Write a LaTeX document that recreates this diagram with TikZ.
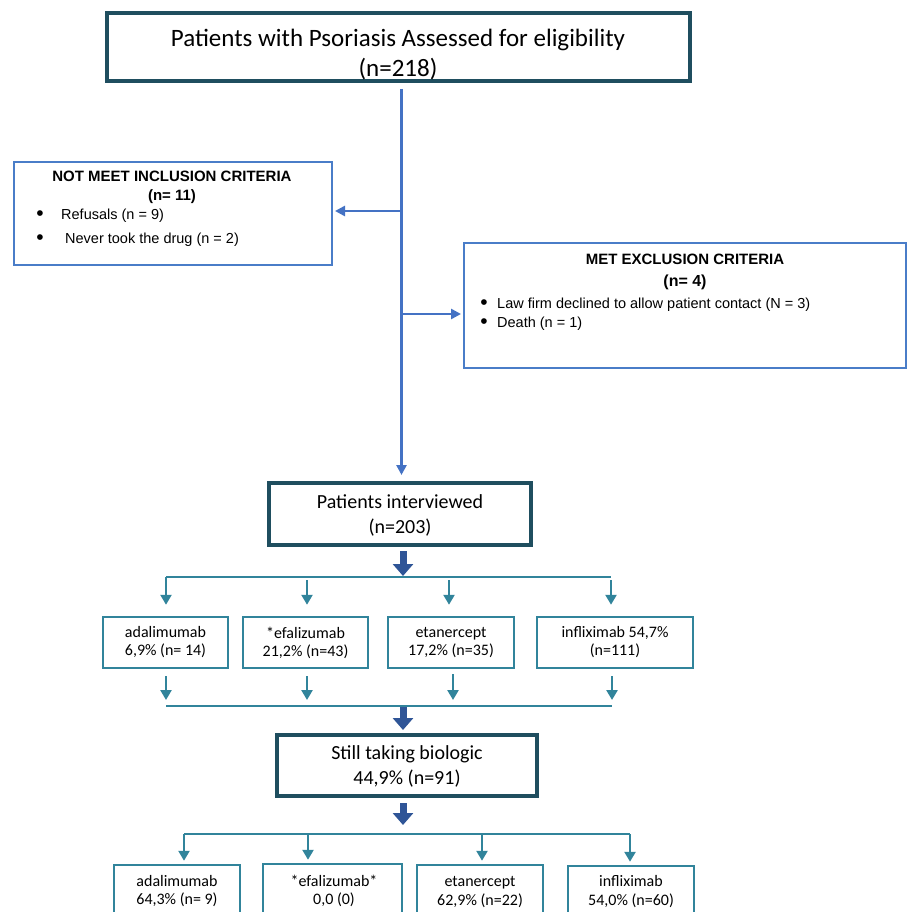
\documentclass[tikz,border=0pt]{standalone}
\usepackage{fontspec}
\setmainfont{Carlito}
\newfontfamily\arialf{Liberation Sans}
\usetikzlibrary{arrows.meta,calc}
\definecolor{dteal}{HTML}{1F4E5F}
\definecolor{tealc}{HTML}{31849B}
\definecolor{blc}{HTML}{4472C4}
\definecolor{blbox}{HTML}{4A7DC8}
\definecolor{dblue}{HTML}{2F5597}
\begin{document}
\begin{tikzpicture}[x=1pt,y=-1pt,
  bigbox/.style={draw=dteal,line width=4pt,rectangle,inner sep=0pt},
  critbox/.style={draw=blbox,line width=2pt,rectangle,inner sep=0pt},
  smallbox/.style={draw=tealc,line width=2.5pt,rectangle,inner sep=0pt,align=center,font=\fontsize{16}{18}\selectfont},
  txt/.style={inner sep=0pt,align=center},
  blline/.style={draw=blc,line width=2.5pt},
  blarrow/.style={draw=blc,line width=2.5pt,-{Triangle[length=10pt,width=10pt]}},
  tline/.style={draw=tealc,line width=2.5pt},
  tarrow/.style={draw=tealc,line width=2.5pt,-{Triangle[length=10pt,width=11pt]}},
  fat/.style={draw=dblue,line width=7pt,-{Triangle[length=12pt,width=20pt]}},
  crit/.style={inner sep=0pt,font=\arialf\fontsize{14.5}{17}\selectfont},
  bul/.style={inner sep=0pt,font=\arialf\fontsize{21}{21}\selectfont},
  critb/.style={inner sep=0pt,align=center,font=\arialf\bfseries\fontsize{15}{19}\selectfont}
]
\clip (0,0) rectangle (907,912);
\fill[white] (0,0) rectangle (907,912);

% top box
\node[bigbox,minimum width=583pt,minimum height=68pt] (top) at (398.5,47) {};
\node[txt,font=\fontsize{25}{30}\selectfont] (toptxt) at (398,55) {Patients with Psoriasis Assessed for eligibility\\(n=218)};

% criteria boxes
\node[critbox,minimum width=318pt,minimum height=103pt] (left) at (173,213.5) {};
\node[critb] (lefttitle) at (172,187.5) {NOT MEET INCLUSION CRITERIA\\(n= 11)};
\node[bul] (lb1) at (40,216) {•};
\node[crit,anchor=west] (lt1) at (61,216) {Refusals (n = 9)};
\node[bul] (lb2) at (40,240) {•};
\node[crit,anchor=west] (lt2) at (65,240) {Never took the drug (n = 2)};

\node[critbox,minimum width=442pt,minimum height=125pt] (right) at (685,305.5) {};
\node[critb] (rtitle1) at (685,259) {MET EXCLUSION CRITERIA};
\node[critb,font=\arialf\bfseries\fontsize{16}{19}\selectfont] (rtitle2) at (685,282) {(n= 4)};
\node[bul] (rb1) at (484,305) {•};
\node[crit,anchor=west] (rt1) at (497,305) {Law firm declined to allow patient contact (N = 3)};
\node[bul] (rb2) at (484,324) {•};
\node[crit,anchor=west] (rt2) at (497,324) {Death (n = 1)};

% patients interviewed
\node[bigbox,minimum width=262pt,minimum height=62pt] (pi) at (400,514) {};
\node[txt,font=\fontsize{20}{25}\selectfont] (pitxt) at (400,515) {Patients interviewed\\(n=203)};

% main trunk
\coordinate (j0) at (401.5,89);
\coordinate (j1) at (401.5,211);
\coordinate (j2) at (401.5,314);
\draw[blarrow] (j0) -- ($(j0 |- pi.north)+(0,-6)$);
\draw[blarrow] (j1) -- ($(j1 -| left.east)+(2,0)$);
\draw[blarrow] (j2) -- ($(j2 -| right.west)+(-2,0)$);

% middle row
\node[smallbox,minimum width=125pt,minimum height=51pt] (m1) at (165.5,642.5) {adalimumab\\6,9\% (n= 14)};
\node[smallbox,minimum width=125pt,minimum height=51pt] (m2) at (305.5,642.5) {*efalizumab\\21,2\% (n=43)};
\node[smallbox,minimum width=126pt,minimum height=51pt] (m3) at (451,642.5) {etanercept\\17,2\% (n=35)};
\node[smallbox,minimum width=156pt,minimum height=51pt] (m4) at (615,642.5) {infliximab 54,7\%\\(n=111)};

\coordinate (h1) at (403,577);
\coordinate (h1a) at (166,577);
\coordinate (h1b) at (307,577);
\coordinate (h1c) at (449,577);
\coordinate (h1d) at (611,577);
\draw[fat] ($(pi.south)+(3,4)$) -- ($(h1)+(0,-1)$);
\draw[tline] (h1a) -- (h1d);
\draw[tarrow,shorten >=11pt] (h1a) -- (h1a |- m1.north);
\draw[tarrow,shorten >=11pt] ($(h1b)+(0,3)$) -- (h1b |- m2.north);
\draw[tarrow,shorten >=11pt] ($(h1c)+(0,3)$) -- (h1c |- m3.north);
\draw[tarrow,shorten >=11pt] ($(h1d)+(0,3)$) -- (h1d |- m4.north);

\coordinate (h2) at (403,706);
\coordinate (h2a) at (166,706);
\coordinate (h2b) at (307,706);
\coordinate (h2c) at (453,706);
\coordinate (h2d) at (612,706);
\draw[tline] (h2a) -- (h2d);
\draw[tarrow,shorten <=7pt,shorten >=6pt] (h2a |- m1.south) -- (h2a);
\draw[tarrow,shorten <=7pt,shorten >=6pt] (h2b |- m2.south) -- (h2b);
\draw[tarrow,shorten <=5pt,shorten >=6pt] (h2c |- m3.south) -- (h2c);
\draw[tarrow,shorten <=7pt,shorten >=6pt] (h2d |- m4.south) -- (h2d);

% still taking biologic
\node[bigbox,minimum width=260pt,minimum height=61pt] (st) at (407,765.5) {};
\node[txt,font=\fontsize{20}{25}\selectfont] (sttxt) at (407,766) {Still taking biologic\\44,9\% (n=91)};
\draw[fat] ($(h2)+(0,1)$) -- ($(h2 |- st.north)+(0,-3)$);

% bottom row
\coordinate (h3) at (403,834);
\coordinate (h3a) at (184,834);
\coordinate (h3b) at (308,834);
\coordinate (h3c) at (482,834);
\coordinate (h3d) at (630,834);
\draw[fat] ($(h3 |- st.south)+(0,5)$) -- ($(h3)+(0,-9)$);
\draw[tline] (h3a) -- (h3d);

\node[draw=tealc,line width=2.5pt,inner sep=0pt,minimum width=126pt,minimum height=95pt] (b1) at (177,912.5) {};
\node[draw=tealc,line width=2.5pt,inner sep=0pt,minimum width=139pt,minimum height=95pt] (b2) at (332.5,911.5) {};
\node[draw=tealc,line width=2.5pt,inner sep=0pt,minimum width=126pt,minimum height=95pt] (b3) at (480,912.5) {};
\node[draw=tealc,line width=2.5pt,inner sep=0pt,minimum width=126pt,minimum height=95pt] (b4) at (631,913.5) {};
\draw[tarrow,shorten >=3pt] (h3a) -- (h3a |- b1.north);
\draw[tarrow,shorten >=3pt] (h3b) -- (h3b |- b2.north);
\draw[tarrow,shorten >=3pt] (h3c) -- (h3c |- b3.north);
\draw[tarrow,shorten >=3pt] (h3d) -- (h3d |- b4.north);

\node[txt,font=\fontsize{16}{18}\selectfont] (b1t) at (177,891) {adalimumab\\64,3\% (n= 9)};
\node[txt,font=\fontsize{16}{18}\selectfont] (b2t) at (334,891) {*efalizumab*\\0,0 (0)};
\node[txt,font=\fontsize{16}{19}\selectfont] (b3t) at (480,892) {etanercept\\62,9\% (n=22)};
\node[txt,font=\fontsize{16}{19}\selectfont] (b4t) at (631,892) {infliximab\\54,0\% (n=60)};
\end{tikzpicture}
\end{document}
